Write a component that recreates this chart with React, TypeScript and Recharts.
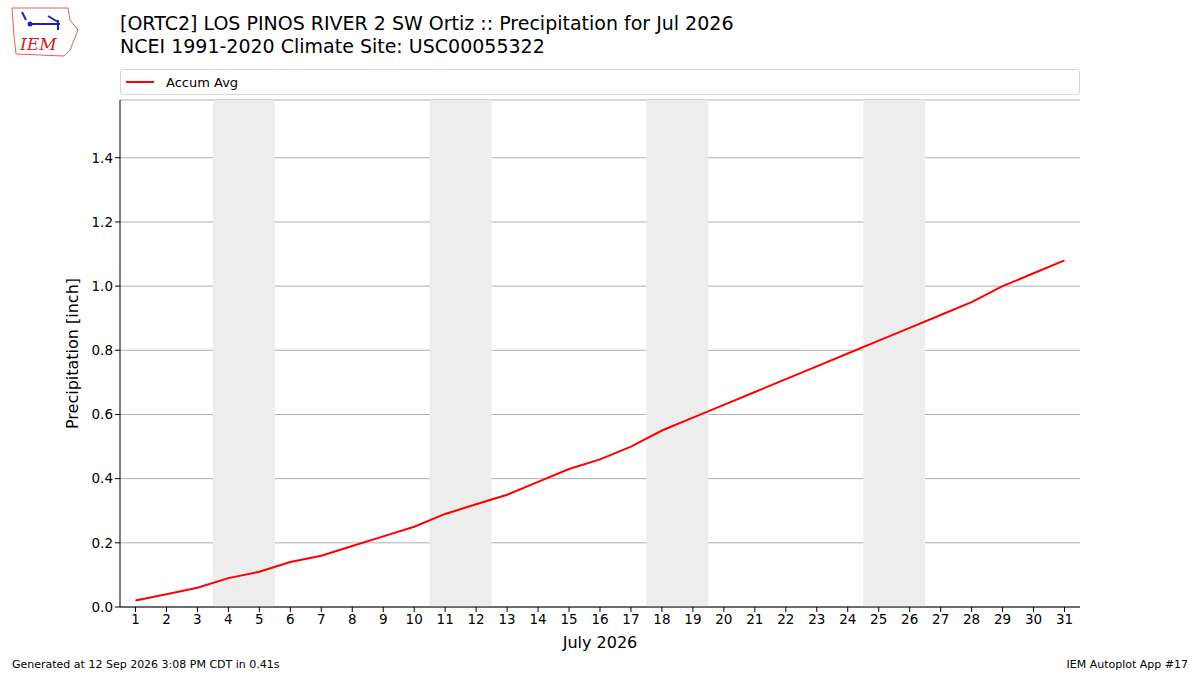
import React from "react";
import { CartesianGrid, Legend, Line, LineChart, ReferenceArea, XAxis, YAxis } from "recharts";

const days = [1, 2, 3, 4, 5, 6, 7, 8, 9, 10, 11, 12, 13, 14, 15, 16, 17, 18, 19, 20, 21, 22, 23, 24, 25, 26, 27, 28, 29, 30, 31];
const accumAvg = [0.02, 0.04, 0.06, 0.09, 0.11, 0.14, 0.16, 0.19, 0.22, 0.25, 0.29, 0.32, 0.35, 0.39, 0.43, 0.46, 0.5, 0.55, 0.59, 0.63, 0.67, 0.71, 0.75, 0.79, 0.83, 0.87, 0.91, 0.95, 1.0, 1.04, 1.08];
const weekends = [[4, 5], [11, 12], [18, 19], [25, 26]];
const yTicks = [0, 0.2, 0.4, 0.6, 0.8, 1.0, 1.2, 1.4];

const data = days.map((day, i) => ({ day, avg: accumAvg[i] }));

const font = "'DejaVu Sans', sans-serif";

function LegendBox() {
  return (
    <div style={{ width: 958, height: 24, border: "1px solid #d6d6d6", borderRadius: 3, background: "#fff", display: "flex", alignItems: "center", fontFamily: font, fontSize: 13 }}>
      <div style={{ width: 28, height: 2, background: "red", marginLeft: 5, marginRight: 12 }} />
      <span>Accum Avg</span>
    </div>
  );
}

export default function App() {
  return (
    <div style={{ position: "absolute", left: 0, top: 0, width: 1200, height: 675, background: "#fff", fontFamily: font }}>
      <svg style={{ position: "absolute", left: 8, top: 6 }} width={72} height={52}>
        <path d="M4 2 L60 2 L62 14 L70 24 L66 34 L62 44 L56 50 L8 48 L6 30 Z" fill="none" stroke="#e06060" strokeWidth={1} />
        <path d="M14 6 L18 14 M20 18 L52 18 M40 10 L50 16 M50 14 L50 24" stroke="#2020c0" strokeWidth={2} fill="none" />
        <circle cx={22} cy={18} r={2.5} fill="#2020c0" />
        <text x={12} y={44} fill="#d02020" fontFamily="'DejaVu Serif', serif" fontStyle="italic" fontSize={17}>IEM</text>
      </svg>
      <div style={{ position: "absolute", left: 120, top: 12, fontSize: 19, lineHeight: "23px", color: "#000" }}>
        [ORTC2] LOS PINOS RIVER 2 SW Ortiz :: Precipitation for Jul 2026
        <br />
        NCEI 1991-2020 Climate Site: USC00055322
      </div>
      <LineChart width={1200} height={675} data={data} margin={{ top: 74, right: 120, bottom: 8, left: 60 }}>
        <CartesianGrid vertical={false} stroke="#b0b0b0" />
        {weekends.map(([a, b]) => (
          <ReferenceArea key={a} x1={a - 0.5} x2={b + 0.5} y1={0} y2={1.58} fill="#ededed" fillOpacity={1} stroke="none" ifOverflow="hidden" />
        ))}
        <XAxis
          dataKey="day"
          type="number"
          domain={[0.5, 31.5]}
          ticks={days}
          interval={0}
          stroke="#000"
          tickSize={5}
          tick={{ fill: "#000", fontSize: 13.5, fontFamily: font }}
          height={60}
          label={{ value: "July 2026", position: "insideTop", offset: 30, fill: "#000", fontSize: 16, fontFamily: font }}
        />
        <XAxis xAxisId="top" orientation="top" dataKey="day" type="number" domain={[0.5, 31.5]} tick={false} tickLine={false} stroke="#000" height={0} />
        <YAxis
          domain={[0, 1.58]}
          ticks={yTicks}
          allowDataOverflow
          stroke="#000"
          tickSize={5}
          width={60}
          tickFormatter={(v: number) => v.toFixed(1)}
          tick={{ fill: "#000", fontSize: 13.5, fontFamily: font }}
          label={{ value: "Precipitation [inch]", angle: -90, position: "insideLeft", offset: 12, fill: "#000", fontSize: 16, fontFamily: font, style: { textAnchor: "middle" } }}
        />
        <YAxis yAxisId="right" orientation="right" domain={[0, 1.58]} tick={false} tickLine={false} stroke="#000" width={0} />
        <Legend verticalAlign="top" height={26} content={() => <LegendBox />} wrapperStyle={{ top: 69, left: 120, width: 960 }} />
        <Line type="linear" dataKey="avg" stroke="red" strokeWidth={2} dot={false} isAnimationActive={false} />
      </LineChart>
      <div style={{ position: "absolute", left: 12, top: 658, fontSize: 11 }}>Generated at 12 Sep 2026 3:08 PM CDT in 0.41s</div>
      <div style={{ position: "absolute", right: 12, top: 658, fontSize: 11 }}>IEM Autoplot App #17</div>
    </div>
  );
}
